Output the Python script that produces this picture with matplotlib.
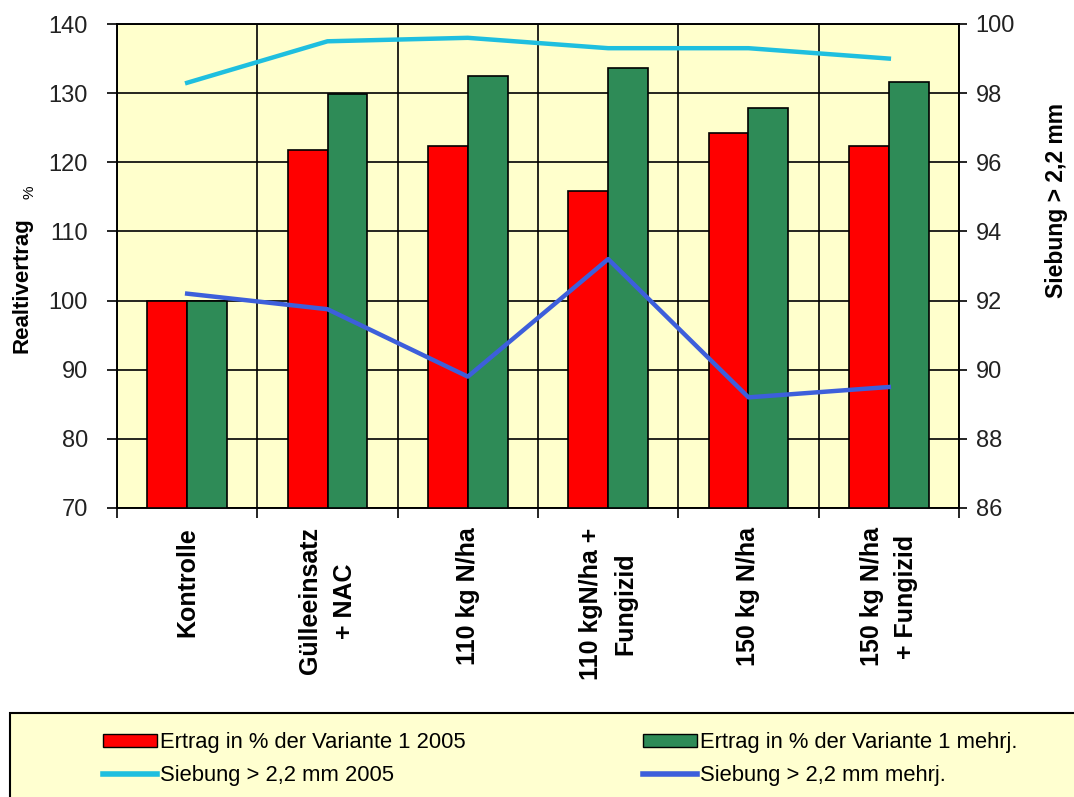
import numpy as np
import matplotlib
matplotlib.use("Agg")
import matplotlib.pyplot as plt
from matplotlib.patches import Rectangle, Patch
from matplotlib.lines import Line2D

plt.rcParams['font.family'] = ['Liberation Sans', 'DejaVu Sans']

categories = ["Kontrolle", "Gülleeinsatz\n+ NAC", "110 kg N/ha",
              "110 kgN/ha +\nFungizid", "150 kg N/ha", "150 kg N/ha\n+ Fungizid"]
ertrag_2005 = [100, 121.8, 122.4, 115.9, 124.3, 122.4]
ertrag_mehrj = [100, 129.9, 132.5, 133.6, 127.9, 131.6]
siebung_2005 = [98.3, 99.5, 99.6, 99.3, 99.3, 99.0]
siebung_mehrj = [92.2, 91.75, 89.8, 93.2, 89.2, 89.5]

left_ticks = [70, 80, 90, 100, 110, 120, 130, 140]
right_ticks = [86, 88, 90, 92, 94, 96, 98, 100]

RED = '#ff0000'
GREEN = '#2e8b57'
CYAN = '#1fbfdf'
BLUE = '#3d5fdb'
BG = '#ffffcc'

W, H = 1074, 797
fig = plt.figure(figsize=(W / 100, H / 100), dpi=100)
ax = fig.add_axes([117 / W, 1 - 508 / H, (959 - 117) / W, (508 - 24) / H])
ax.set_facecolor(BG)

x = np.arange(len(categories))
bw = 0.285
ax.bar(x - bw / 2, ertrag_2005, bw, color=RED, edgecolor='black', linewidth=1.2, zorder=3)
ax.bar(x + bw / 2, ertrag_mehrj, bw, color=GREEN, edgecolor='black', linewidth=1.2, zorder=3)

ax.set_xlim(-0.5, len(categories) - 0.5)
ax.set_ylim(70, 140)
ax.set_yticks(left_ticks)
ax.set_xticks(x)
ax.set_xticklabels(categories, rotation=90, fontsize=18, fontweight='bold',
                   multialignment='center', va='top', linespacing=1.55)
ax.set_xticks(np.arange(-0.5, len(categories)), minor=True)
ax.tick_params(axis='x', which='major', length=0, pad=14)
ax.tick_params(axis='x', which='minor', length=7, width=1.2, direction='out')
ax.tick_params(axis='y', length=7, width=1.2, direction='out', labelsize=17,
               labelcolor='#222222', pad=14)
ax.grid(True, which='major', axis='y', color='black', linewidth=1.2, zorder=1)
ax.grid(True, which='minor', axis='x', color='black', linewidth=1.2, zorder=1)
ax.set_axisbelow(True)
for s in ax.spines.values():
    s.set_linewidth(1.2)

ax2 = ax.twinx()
ax2.plot(x, siebung_2005, color=CYAN, linewidth=3.2, zorder=4)
ax2.plot(x, siebung_mehrj, color=BLUE, linewidth=3.2, zorder=4)
ax2.set_ylim(86, 100)
ax2.set_yticks(right_ticks)
ax2.tick_params(axis='y', length=6, width=1.2, direction='out', labelsize=17,
                labelcolor='#222222', pad=6)
for s in ax2.spines.values():
    s.set_linewidth(1.2)

# axis titles
fig.text(22 / W, 1 - 285 / H, "Realtivertrag", rotation=90, fontsize=16,
         fontweight='bold', ha='center', va='center')
fig.text(30 / W, 1 - 192 / H, "%", rotation=90, fontsize=11,
         ha='center', va='center')
fig.text(1057 / W, 1 - 200 / H, "Siebung > 2,2 mm", rotation=90, fontsize=16.5,
         fontweight='bold', ha='center', va='center')

# legend box
fig.add_artist(Rectangle((10 / W, -0.01), 1.1, (797 - 713) / H + 0.01,
                         transform=fig.transFigure, facecolor='#ffffd0',
                         edgecolor='black', linewidth=1.5, zorder=0))

h1 = [Patch(facecolor=RED, edgecolor='black'),
      Line2D([], [], color=CYAN, linewidth=4)]
l1 = ["Ertrag in % der Variante 1 2005", "Siebung > 2,2 mm 2005"]
h2 = [Patch(facecolor=GREEN, edgecolor='black'),
      Line2D([], [], color=BLUE, linewidth=4)]
l2 = ["Ertrag in % der Variante 1 mehrj.", "Siebung > 2,2 mm mehrj."]
for hh, ll, x0 in [(h1, l1, 103), (h2, l2, 643)]:
    fig.legend(hh, ll, loc='upper left', bbox_to_anchor=(x0 / W, 1 - 732 / H),
               frameon=False, fontsize=15.8, handlelength=2.45, handleheight=0.55,
               handletextpad=0.15, labelspacing=0.55, borderpad=0, borderaxespad=0)

fig.savefig("out.png", dpi=100)
